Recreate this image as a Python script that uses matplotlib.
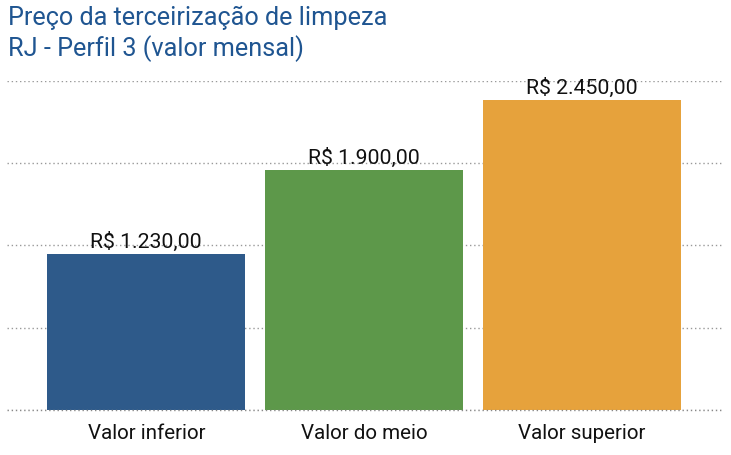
import matplotlib
matplotlib.use('Agg')
import matplotlib.pyplot as plt

# data
categories = ["Valor inferior", "Valor do meio", "Valor superior"]
values = [1230, 1900, 2450]
value_labels = ["R$ 1.230,00", "R$ 1.900,00", "R$ 2.450,00"]
colors = ["#2E5A8A", "#5D984A", "#E6A23C"]
grid_ticks = [0, 650, 1300, 1950, 2600]

plt.rcParams['font.family'] = ['Roboto', 'DejaVu Sans']

fig = plt.figure(figsize=(7.31, 4.55), dpi=100)
ax = fig.add_axes([0.0096, 0.099, 0.9795, 0.723])

x = list(range(len(categories)))
bars = ax.bar(x, values, width=0.91, color=colors, zorder=3)

for b, lab in zip(bars, value_labels):
    ax.annotate(lab, (b.get_x() + b.get_width() / 2, b.get_height()),
                xytext=(0, 1.5), textcoords='offset points',
                ha='center', va='bottom', fontsize=15.3, color='#111111', zorder=4)

ax.set_xlim(-0.64, 2.65)
ax.set_ylim(0, 2600)
ax.set_yticks(grid_ticks)
ax.yaxis.grid(True, color='#999999', linestyle=(0, (1, 2)), linewidth=1, zorder=0)
# baseline dotted line drawn over the bar bottoms
ax.axhline(0, color='#888888', linestyle=(0, (1, 2)), linewidth=1, zorder=5, clip_on=False)
ax.tick_params(axis='y', left=False, labelleft=False)
ax.set_xticks(x)
ax.set_xticklabels(categories, fontsize=14.8, color='#111111')
ax.tick_params(axis='x', length=0, pad=10)
for s in ax.spines.values():
    s.set_visible(False)

fig.text(0.011, 0.960, "Preço da terceirização de limpeza", fontsize=18.2,
         color='#1F5591', ha='left', va='center')
fig.text(0.011, 0.894, "RJ - Perfil 3 (valor mensal)", fontsize=18.2,
         color='#1F5591', ha='left', va='center')

fig.savefig('out.png', dpi=100)
